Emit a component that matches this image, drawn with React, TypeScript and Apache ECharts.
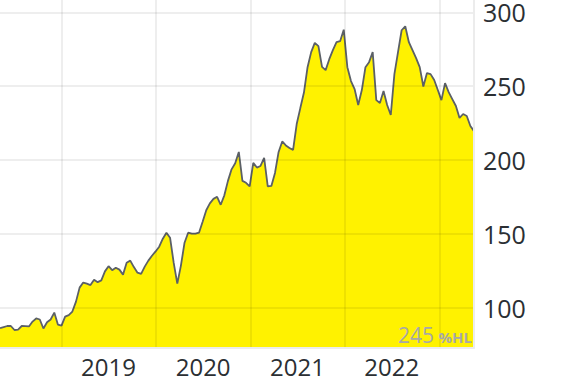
import React, { useEffect, useRef } from 'react';
import * as echarts from 'echarts';

// Biweekly closing values
const START_DATE = '2018-05-07';
const STEP_DAYS = 14;
const prices = [
  86.1, 86.8, 87.5, 87.5, 84.8, 85.1, 87.5, 87.4, 87.2, 90.5,
  92.6, 91.9, 85.8, 90.0, 91.9, 96.6, 88.5, 87.8, 93.9, 94.9,
  97.3, 104.0, 113.5, 116.9, 116.2, 115.2, 118.9, 117.2, 118.4, 124.5,
  128.0, 125.3, 127.0, 125.7, 122.3, 130.4, 131.8, 127.4, 123.6, 122.8,
  127.7, 131.8, 135.1, 138.0, 141.2, 146.6, 150.7, 147.3, 130.4, 116.2,
  128.4, 143.9, 150.7, 150.0, 150.0, 150.7, 158.1, 165.9, 170.6, 173.6,
  175.0, 169.6, 176.0, 185.8, 193.6, 197.7, 205.4, 185.8, 184.5, 182.1,
  198.0, 194.8, 195.9, 201.3, 182.0, 182.4, 191.2, 205.4, 212.5, 209.8,
  208.1, 206.8, 224.3, 235.1, 245.6, 262.8, 273.0, 279.3, 277.0, 263.0,
  260.8, 268.2, 274.3, 279.7, 280.4, 288.2, 262.8, 253.4, 248.0, 237.2,
  247.3, 262.8, 266.2, 273.0, 240.5, 238.5, 246.6, 237.2, 230.4, 258.1,
  273.0, 287.8, 290.5, 279.7, 274.3, 268.9, 262.8, 249.7, 258.8, 258.1,
  254.1, 247.3, 240.5, 252.0, 245.9, 241.2, 236.5, 228.4, 231.1, 229.7,
  223.0, 219.5,
];
const yTicks = [100, 150, 200, 250, 300];
const yearStarts = ['2019-01-01', '2020-01-01', '2021-01-01', '2022-01-01', '2023-01-01'];
const yearMids = ['2019-07-01', '2020-07-01', '2021-07-01', '2022-07-01'];
const watermarkValue = '245';
const watermarkUnit = '%HL';

const DAY = 86400000;
const ts = (s: string) => Date.parse(s + 'T00:00:00Z');

export default function App() {
  const ref = useRef<HTMLDivElement>(null);
  useEffect(() => {
    if (!ref.current) return;
    const chart = echarts.init(ref.current, undefined, { renderer: 'svg' });
    const start = ts(START_DATE);
    const data = prices.map((v, i) => [start + i * STEP_DAYS * DAY, v]);
    const gridColor = 'rgba(0,0,0,0.065)';
    chart.setOption({
      animation: false,
      grid: { left: 0, right: 96, top: 0, bottom: 34, containLabel: false, outerBoundsMode: 'none' },
      xAxis: {
        type: 'value',
        min: data[0][0],
        max: data[data.length - 1][0],
        z: 3,
        axisLine: { show: true, lineStyle: { color: '#ececec', width: 2 } },
        axisTick: { show: false, customValues: yearStarts.map(ts) },
        axisLabel: {
          customValues: yearMids.map(ts),
          formatter: (v: number) => String(new Date(v).getUTCFullYear()),
          color: '#2b2f33',
          fontSize: 24,
          fontFamily: 'Open Sans',
          margin: 6,
        },
        splitLine: { show: true, lineStyle: { color: gridColor, width: 2 } },
      },
      yAxis: {
        type: 'value',
        position: 'right',
        min: 72.6,
        max: 308.3,
        z: 3,
        axisLine: { show: true, lineStyle: { color: '#ececec', width: 2 } },
        axisTick: { show: false, customValues: yTicks },
        axisLabel: {
          customValues: yTicks,
          color: '#2b2f33',
          fontSize: 25,
          fontFamily: 'Open Sans',
          margin: 9,
        },
        splitLine: { show: true, lineStyle: { color: gridColor, width: 2 } },
      },
      series: [
        {
          type: 'line',
          data,
          showSymbol: false,
          symbol: 'none',
          lineStyle: { color: '#5b6066', width: 1.8 },
          areaStyle: { color: '#fff200', opacity: 1 },
          z: 2,
        },
      ],
      graphic: [
        {
          type: 'text',
          x: 434,
          y: 335,
          z: 10,
          style: {
            text: watermarkValue,
            fill: '#a8a8a8',
            font: '21px "Open Sans"',
            textAlign: 'right',
            textVerticalAlign: 'middle',
          },
        },
        {
          type: 'text',
          x: 472,
          y: 337,
          z: 10,
          style: {
            text: watermarkUnit,
            fill: '#a8a8a8',
            font: 'bold 15px "Open Sans"',
            textAlign: 'right',
            textVerticalAlign: 'middle',
          },
        },
      ],
    });
    return () => chart.dispose();
  }, []);
  return (
    <div
      ref={ref}
      style={{ position: 'fixed', left: 0, top: 0, width: 570, height: 382, background: '#fff' }}
    />
  );
}
